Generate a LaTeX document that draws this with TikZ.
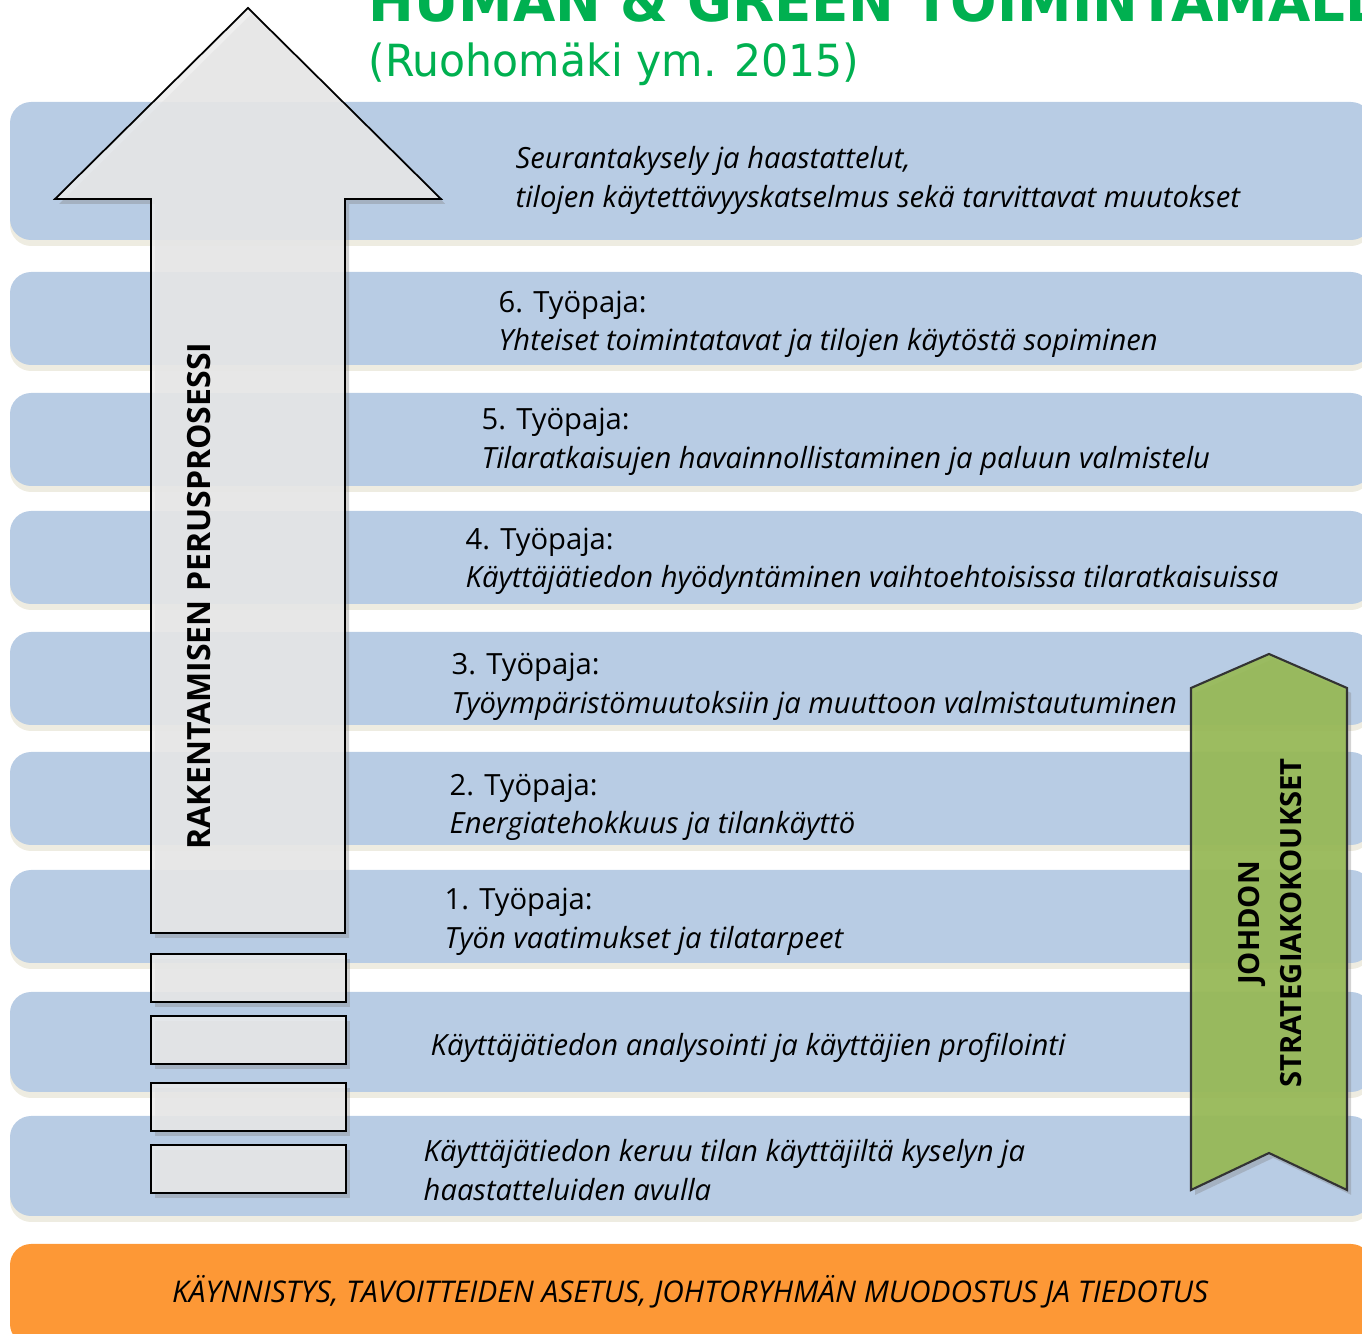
\documentclass[tikz,border=0pt]{standalone}
\usepackage{fontspec}
\setmainfont{Open Sans}
\newfontfamily\titlefont[FakeStretch=0.96]{DejaVu Sans}
\usetikzlibrary{shadows}

\definecolor{bandblue}{RGB}{184,204,228}
\definecolor{bandedge}{RGB}{238,236,225}
\definecolor{arrowgray}{RGB}{236,236,236}
\definecolor{ribbongreen}{RGB}{152,186,86}
\definecolor{startorange}{RGB}{253,152,54}
\definecolor{titlegreen}{RGB}{0,176,80}

\begin{document}
\begin{tikzpicture}[x=0.01cm, y=-0.01cm,
  band/.style={fill=bandblue, rounded corners=6pt},
  band edge/.style={fill=bandedge, rounded corners=6pt},
  soft shadow/.style={drop shadow={opacity=0.35, shadow xshift=1.2pt, shadow yshift=-1.4pt}},
  arrow body/.style={draw=black, line width=0.5pt, fill=arrowgray, fill opacity=0.86, soft shadow},
  stack box/.style={draw=black, line width=0.6pt, fill=arrowgray, fill opacity=0.86, soft shadow},
  ribbon/.style={draw=black!80, line width=0.6pt, fill=ribbongreen, fill opacity=0.92, soft shadow},
  phase/.style={anchor=base west, font=\fontsize{8.3pt}{9pt}\selectfont, inner sep=0pt},
  task/.style={phase, font=\fontsize{8.3pt}{9pt}\selectfont\itshape},
  vert/.style={rotate=90, font=\fontsize{9.1pt}{11.7pt}\selectfont\bfseries, align=center, inner sep=0pt}]

\useasboundingbox (0,0) rectangle (1362,1334);
\clip (0,0) rectangle (1362,1334);

% bands
\foreach \t/\b in {102/240, 272/365, 393/486, 511/604, 632/725, 752/845, 870/963, 992/1092, 1116/1216} {
  \path[band edge] (10,\t+6) rectangle (1372,\b+6);
  \path[band] (10,\t) rectangle (1372,\b);
}
\path[fill=startorange, rounded corners=6pt] (10,1244) rectangle (1372,1345);

% title
\node[anchor=base west, inner sep=0pt, text=titlegreen, font=\titlefont\bfseries\fontsize{16.2pt}{18pt}\selectfont] (title) at (368,22) {HUMAN \& GREEN TOIMINTAMALLI};
\node[anchor=base west, inner sep=0pt, text=titlegreen, font=\titlefont\fontsize{12.6pt}{14pt}\selectfont] (source) at (368,77) {(Ruohomäki ym. 2015)};

% process arrow and steps
\path[arrow body] (151,933) -- (151,199) -- (55,199) -- (248,8) -- (441,199) -- (345,199) -- (345,933) -- cycle;
\path[stack box] (151,954) rectangle (346,1002);
\path[stack box] (151,1016) rectangle (346,1064);
\path[stack box] (151,1083) rectangle (346,1131);
\path[stack box] (151,1145) rectangle (346,1193);
\node[vert] (process) at (199,596) {RAKENTAMISEN PERUSPROSESSI};

% management ribbon
\path[ribbon] (1191,1190) -- (1191,688) -- (1269,654) -- (1347,688) -- (1347,1190) -- (1269,1153) -- cycle;
\node[vert, font=\fontsize{8.3pt}{11.7pt}\selectfont\bfseries] (board) at (1270,923) {JOHDON\\STRATEGIAKOKOUKSET};

% band texts
\node[task] (follow1) at (515,169) {Seurantakysely ja haastattelut,};
\node[task] (follow2) at (515,208) {tilojen käytettävyyskatselmus sekä tarvittavat muutokset};
\node[phase] (ws6) at (498,313) {6. Työpaja:};
\node[task] (ws6t) at (498,351) {Yhteiset toimintatavat ja tilojen käytöstä sopiminen};
\node[phase] (ws5) at (481,430) {5. Työpaja:};
\node[task] (ws5t) at (481,469) {Tilaratkaisujen havainnollistaminen ja paluun valmistelu};
\node[phase] (ws4) at (465,550) {4. Työpaja:};
\node[task] (ws4t) at (465,588) {Käyttäjätiedon hyödyntäminen vaihtoehtoisissa tilaratkaisuissa};
\node[phase] (ws3) at (451,675) {3. Työpaja:};
\node[task] (ws3t) at (451,714) {Työympäristömuutoksiin ja muuttoon valmistautuminen};
\node[phase] (ws2) at (449,796) {2. Työpaja:};
\node[task] (ws2t) at (449,834) {Energiatehokkuus ja tilankäyttö};
\node[phase] (ws1) at (444,910) {1. Työpaja:};
\node[task] (ws1t) at (444,949) {Työn vaatimukset ja tilatarpeet};
\node[task] (analysis) at (430,1056) {Käyttäjätiedon analysointi ja käyttäjien profilointi};
\node[task] (collect1) at (423,1162) {Käyttäjätiedon keruu tilan käyttäjiltä kyselyn ja};
\node[task] (collect2) at (423,1201) {haastatteluiden avulla};
\node[task, anchor=base, font=\fontsize{8.5pt}{9pt}\selectfont\itshape] (kickoff) at (690,1303) {KÄYNNISTYS, TAVOITTEIDEN ASETUS, JOHTORYHMÄN MUODOSTUS JA TIEDOTUS};

\end{tikzpicture}
\end{document}
